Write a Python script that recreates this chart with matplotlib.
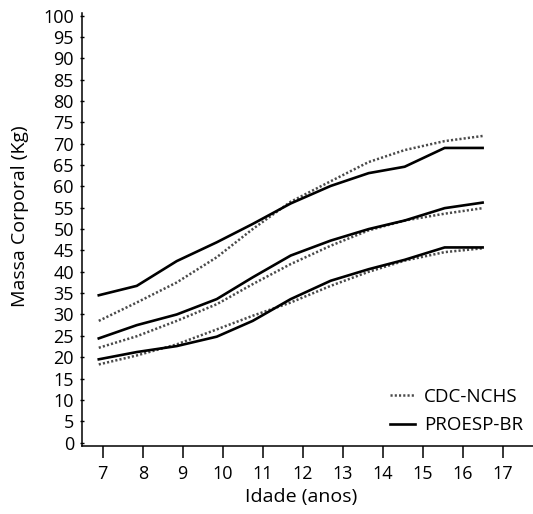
import matplotlib
matplotlib.use("Agg")
import matplotlib.pyplot as plt

plt.rcParams['font.family'] = ['Open Sans', 'DejaVu Sans']

# ages where the curves have their vertices
ages = [6.9, 7.85, 8.85, 9.85, 10.75, 11.7, 12.7, 13.65, 14.55, 15.55, 16.5]

# PROESP-BR (solid)
proesp_high = [34.5, 36.7, 42.5, 46.9, 51.2, 56.0, 60.1, 63.1, 64.6, 69.0, 69.0]
proesp_mid = [24.4, 27.5, 30.0, 33.6, 38.7, 43.8, 47.3, 50.0, 52.0, 54.9, 56.2]
proesp_low = [19.5, 21.2, 22.6, 24.8, 28.5, 33.6, 37.9, 40.6, 42.8, 45.7, 45.7]

# CDC-NCHS (dotted)
cdc_high = [28.5, 32.8, 37.5, 43.4, 50.0, 56.4, 61.2, 65.7, 68.5, 70.6, 71.8]
cdc_mid = [22.2, 24.9, 28.5, 32.4, 37.1, 41.8, 46.1, 49.7, 52.0, 53.6, 54.9]
cdc_low = [18.3, 20.4, 23.0, 26.5, 29.7, 32.8, 36.7, 40.0, 42.6, 44.6, 45.5]

x_ticks = list(range(7, 18))
y_ticks = list(range(0, 101, 5))

fig = plt.figure(figsize=(5.33, 5.14), dpi=100)
ax = fig.add_axes([0.1538, 0.1323, 0.8462, 0.8424])

dot_style = dict(color='#4a4a4a', lw=1.8, linestyle=(0, (0.85, 0.85)))
solid_style = dict(color='black', lw=1.9)

ax.plot(ages, cdc_high, **dot_style)
ax.plot(ages, cdc_mid, **dot_style)
ax.plot(ages, cdc_low, **dot_style, label='CDC-NCHS')
ax.plot(ages, proesp_high, **solid_style)
ax.plot(ages, proesp_mid, **solid_style)
ax.plot(ages, proesp_low, **solid_style, label='PROESP-BR')

ax.set_xlim(6.48, 17.76)
ax.set_ylim(-0.8, 100.6)
ax.set_xticks(x_ticks)
ax.set_yticks(y_ticks)

for s in ['top', 'right']:
    ax.spines[s].set_visible(False)
for s in ['left', 'bottom']:
    ax.spines[s].set_linewidth(1.1)

ax.tick_params(axis='x', direction='out', length=8.5, width=1.1, labelsize=13, pad=5)
ax.tick_params(axis='y', direction='inout', length=3.5, width=1.0, labelsize=13, pad=4)

ax.set_xlabel('Idade (anos)', fontsize=14)
ax.set_ylabel('Massa Corporal (Kg)', fontsize=14)
ax.xaxis.set_label_coords(0.487, -0.097)
ax.yaxis.set_label_coords(-0.117, 0.53)

ax.legend(loc='lower right', bbox_to_anchor=(0.995, 0.01), frameon=False,
          fontsize=13.5, handlelength=1.3, handletextpad=0.5, labelspacing=0.55,
          borderaxespad=0.0)

fig.savefig('out.png', dpi=100)
